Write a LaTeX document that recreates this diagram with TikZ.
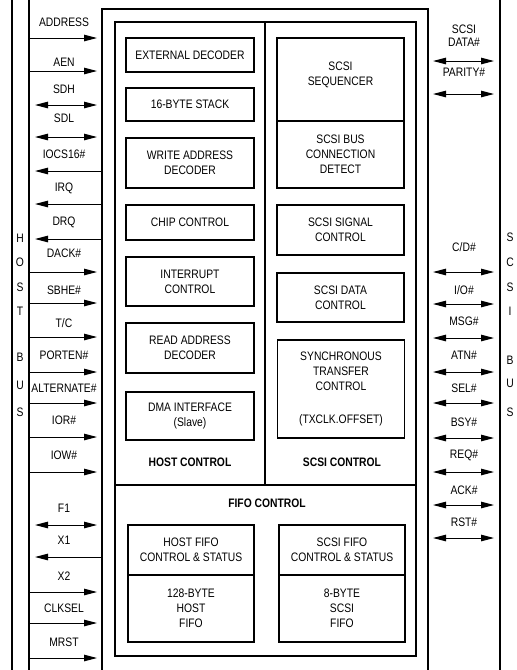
\documentclass[tikz,border=0pt]{standalone}
\usepackage{fontspec}
\setmainfont[FakeStretch=0.84]{Liberation Sans}
\usetikzlibrary{arrows.meta}
\begin{document}
\begin{tikzpicture}[x=1pt,y=-1pt,
  every node/.style={font=\fontsize{12.3}{15}\selectfont, inner sep=0pt},
  blk/.style={draw, line width=1.2pt, align=center},
  txt/.style={align=center},
  ttl/.style={font=\fontsize{12.3}{15}\selectfont\bfseries},
  frame/.style={line width=1.3pt},
  sig/.style={line width=1pt},
  >={Triangle[length=13pt,width=6.5pt]}]
\useasboundingbox (0,0) rectangle (517,670);

% bus lines
\coordinate (hb1t) at (12,0); \coordinate (hb1b) at (12,670);
\coordinate (hb2t) at (29,0); \coordinate (hb2b) at (29,670);
\coordinate (sbt) at (500,0); \coordinate (sbb) at (500,670);
\draw[frame] (hb1t) -- (hb1b);
\draw[frame] (hb2t) -- (hb2b);
\draw[frame] (sbt) -- (sbb);

% outer box (open at the bottom)
\coordinate (o1) at (102,670); \coordinate (o2) at (102,9);
\coordinate (o3) at (428,9); \coordinate (o4) at (428,670);
\draw[frame] (o1) -- (o2) -- (o3) -- (o4);

% inner box
\coordinate (i1) at (115,22); \coordinate (i2) at (416,656);
\draw[frame] (i1) rectangle (i2);
\coordinate (dvt) at (265,22); \coordinate (dvb) at (265,485);
\coordinate (dhl) at (115,485); \coordinate (dhr) at (416,485);
\draw[frame] (dvt) -- (dvb);
\draw[frame] (dhl) -- (dhr);

% HOST BUS letters
\foreach \n/\c/\y in {h/H/238,o/O/262,s/S/287,t/T/311,b/B/357,u/U/385,s2/S/412}
  \node (hl\n) at (20,\y) {\c};
% SCSI BUS letters
\foreach \n/\c/\y in {s/S/237,c/C/262,s2/S/287,i/I/311,b/B/360,u/U/383,s3/S/412}
  \node (sl\n) at (510,\y) {\c};

% host control blocks
\node[blk, minimum width=128, minimum height=34] (ext) at (190,55) {EXTERNAL DECODER};
\node[blk, minimum width=128, minimum height=33] (stk) at (190,104.5) {16-BYTE STACK};
\node[blk, minimum width=128, minimum height=50] (wad) at (190,163) {WRITE ADDRESS\\DECODER};
\node[blk, minimum width=128, minimum height=35] (chp) at (190,222.5) {CHIP CONTROL};
\node[blk, minimum width=128, minimum height=49] (int) at (190,281.5) {INTERRUPT\\CONTROL};
\node[blk, minimum width=128, minimum height=50] (rad) at (190,348) {READ ADDRESS\\DECODER};
\node[blk, minimum width=128, minimum height=48] (dma) at (190,416) {DMA INTERFACE\\(Slave)};
\node[ttl] (hc) at (190,462) {HOST CONTROL};

% scsi control blocks
\node[blk, minimum width=127, minimum height=83] (seq) at (340.5,79.5) {};
\node[txt] (seqt) at (340.5,75) {SCSI\\SEQUENCER};
\node[blk, minimum width=127, minimum height=67] (det) at (340.5,154.5) {SCSI BUS\\CONNECTION\\DETECT};
\node[blk, minimum width=127, minimum height=50] (ssc) at (340.5,230) {SCSI SIGNAL\\CONTROL};
\node[blk, minimum width=127, minimum height=49] (sdc) at (340.5,297.5) {SCSI DATA\\CONTROL};
\node[blk, minimum width=127, minimum height=98] (stc) at (341,389) {SYNCHRONOUS\\TRANSFER\\CONTROL\\[18pt](TXCLK.OFFSET)};
\node[ttl] (sc) at (342,462) {SCSI CONTROL};

% fifo control
\node[ttl] (fc) at (267,503) {FIFO CONTROL};
\node[blk, minimum width=126, minimum height=50] (hfc) at (191,550) {HOST FIFO\\CONTROL \& STATUS};
\node[blk, minimum width=126, minimum height=67] (hff) at (191,608.5) {128-BYTE\\HOST\\FIFO};
\node[blk, minimum width=126, minimum height=50] (sfc) at (342,550) {SCSI FIFO\\CONTROL \& STATUS};
\node[blk, minimum width=126, minimum height=67] (sff) at (342,608.5) {8-BYTE\\SCSI\\FIFO};

% host bus signal labels
\foreach \n/\t/\y in {addr/ADDRESS/22,aen/AEN/62,sdh/SDH/89,sdl/SDL/118,iocs/IOCS16\#/154,
  irq/IRQ/188,drq/DRQ/222,dack/DACK\#/253,sbhe/SBHE\#/290,tc/T\slash C/323,porten/PORTEN\#/355,
  alt/ALTERNATE\#/388,ior/IOR\#/420,iow/IOW\#/455,fa/F1/508,xa/X1/540,xb/X2/576,
  clk/CLKSEL/608,mrst/MRST/642}
  \node (t\n) at (64,\y) {\t};

% host bus arrows: into the chip
\foreach \n/\y in {addr/38,aen/71,dack/272,sbhe/303,tc/337,porten/372,alt/403,ior/437,
  iow/472,xb/592,clk/623,mrst/658}{
  \coordinate (a\n) at (29,\y); \coordinate (b\n) at (97,\y);
  \draw[sig,->] (a\n) -- (b\n);
}
% out of the chip
\foreach \n/\y in {iocs/171,irq/204,drq/239,xa/557}{
  \coordinate (a\n) at (102,\y); \coordinate (b\n) at (35,\y);
  \draw[sig,->] (a\n) -- (b\n);
}
% both ways
\foreach \n/\y in {sdh/105,sdl/137,fa/525}{
  \coordinate (a\n) at (35,\y); \coordinate (b\n) at (97,\y);
  \draw[sig,<->] (a\n) -- (b\n);
}

% scsi bus signals
\node[txt, font=\fontsize{12.3}{13}\selectfont] (tdata) at (464,35.5) {SCSI\\DATA\#};
\foreach \n/\t/\y in {par/PARITY\#/72,cd/C\slash D\#/247,io/I\slash O\#/290,msg/MSG\#/321,
  atn/ATN\#/355,sel/SEL\#/388,bsy/BSY\#/422,req/REQ\#/455,ack/ACK\#/490,rst/RST\#/522}
  \node (t\n) at (464,\y) {\t};
\foreach \n/\y in {data/61,par/94,cd/272,io/304,msg/338,atn/372,sel/403,bsy/438,
  req/472,ack/505,rst/538}{
  \coordinate (c\n) at (433,\y); \coordinate (d\n) at (494,\y);
  \draw[sig,<->] (c\n) -- (d\n);
}
\end{tikzpicture}
\end{document}
